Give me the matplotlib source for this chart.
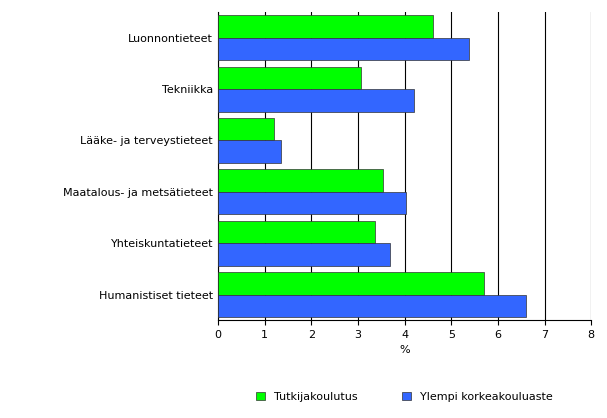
import numpy as np
import matplotlib.pyplot as plt

categories = ['Luonnontieteet', 'Tekniikka', 'Lääke- ja terveystieteet',
              'Maatalous- ja metsätieteet', 'Yhteiskuntatieteet', 'Humanistiset tieteet']
tutkija = [4.61, 3.07, 1.20, 3.54, 3.37, 5.71]
ylempi = [5.39, 4.21, 1.35, 4.03, 3.69, 6.61]

fig = plt.figure(figsize=(6.07, 4.18), dpi=100)
ax = fig.add_axes([0.359, 0.234, 0.615, 0.737])
y = np.arange(len(categories))[::-1]
h = 0.44
ax.barh(y + h / 2, tutkija, h, color='#00ff00', edgecolor='#333333', linewidth=0.5,
        label='Tutkijakoulutus', zorder=3)
ax.barh(y - h / 2, ylempi, h, color='#3366ff', edgecolor='#333333', linewidth=0.5,
        label='Ylempi korkeakouluaste', zorder=3)
ax.set_yticks(y)
ax.set_yticklabels(categories, fontsize=8)
ax.set_ylim(-0.5, len(categories) - 0.5)
ax.set_xlim(0, 8)
ax.set_xticks(range(9))
ax.tick_params(axis='x', labelsize=8)
ax.tick_params(axis='y', length=0)
ax.grid(axis='x', color='black', linewidth=0.8, zorder=0)
for s in ['top', 'right']:
    ax.spines[s].set_visible(False)
ax.set_xlabel('%', fontsize=8)
ax.legend(loc='upper center', bbox_to_anchor=(0.5, -0.2), ncol=2, frameon=False,
          fontsize=8, handlelength=0.8, handleheight=0.8, columnspacing=4)
fig.savefig('out.png')
